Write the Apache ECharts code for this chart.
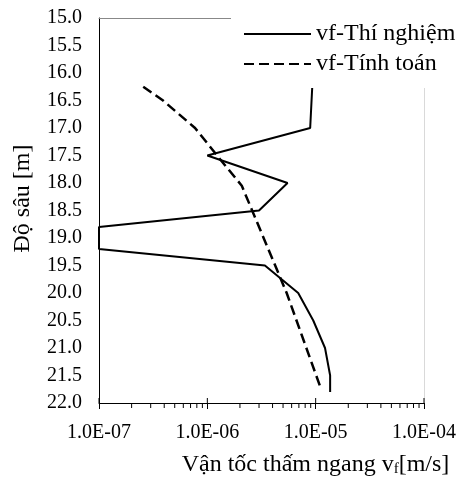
<!DOCTYPE html>
<html>
<head>
<meta charset="utf-8">
<script src="https://cdn.jsdelivr.net/npm/echarts@6/dist/echarts.min.js"></script>
<style>
  html, body { margin: 0; padding: 0; background: #fff; }
  #chart { width: 461px; height: 482px; }
</style>
</head>
<body>
<div id="chart"></div>
<script>
    // van toc tham ngang (m/s) theo do sau (m)
    var depthTN  = [16.25, 17.0, 17.5, 18.0, 18.5, 18.8, 19.2, 19.5, 20.0, 20.5, 21.0, 21.5, 21.8];
    var vfTN     = [9.3e-6, 8.9e-6, 1.0e-6, 5.5e-6, 3.0e-6, 1.0e-7, 1.0e-7, 3.4e-6, 6.9e-6, 9.5e-6, 1.22e-5, 1.36e-5, 1.36e-5];
    var depthTT  = [16.25, 16.5, 17.0, 17.5, 18.05, 20.0, 21.7];
    var vfTT     = [2.56e-7, 3.9e-7, 7.7e-7, 1.23e-6, 2.08e-6, 5.4e-6, 1.1e-5];
    var seriesNames = ['vf-Thí nghiệm', 'vf-Tính toán'];
    var majorTicks = [1e-7, 1e-6, 1e-5, 1e-4];
    var minorTicks = [];
    for (var d = 0; d < 3; d++) {
        for (var m = 2; m <= 9; m++) {
            minorTicks.push(m * majorTicks[d]);
        }
    }

    var font = "'Liberation Serif', 'Times New Roman', serif";

    function pairs(xs, ys) {
        var out = [];
        for (var i = 0; i < xs.length; i++) { out.push([xs[i], ys[i]]); }
        return out;
    }

    //tick data: kind 0 = minor (down), 1 = major (up part)
    var tickData = [];
    minorTicks.forEach(function(v){ tickData.push([v, 22, 0]); });
    majorTicks.forEach(function(v){ tickData.push([v, 22, 1]); });

    var chart = echarts.init(document.getElementById('chart'), null, {renderer: 'canvas'});
    var option = {
        backgroundColor: '#fff',
        animation: false,
        textStyle: {fontFamily: font},
        grid: {left: 99, right: 37, top: 18, bottom: 76, containLabel: false},
        legend: {
            data: seriesNames,
            orient: 'vertical',
            left: 231, top: 0,
            padding: [22, 0, 12, 12],
            backgroundColor: '#fff',
            itemWidth: 67, itemHeight: 14, itemGap: 6,
            itemStyle: {opacity: 0},
            textStyle: {fontFamily: font, fontSize: 24, color: '#000', lineHeight: 23}
        },
        xAxis: [{
            type: 'log', logBase: 10, min: 1e-7, max: 1e-4,
            name: 'Vận tốc thấm ngang v{s|f}[m/s]',
            nameLocation: 'middle', nameGap: 50,
            nameTextStyle: {
                fontFamily: font, fontSize: 24, color: '#000', padding: [0, 0, 0, 108],
                rich: {s: {fontFamily: font, fontSize: 15, color: '#000', padding: [8, 0, 0, 0]}}
            },
            axisLine: {lineStyle: {color: '#000', width: 1}},
            axisTick: {show: true, length: 6, lineStyle: {color: '#000'}},
            splitLine: {show: false},
            axisLabel: {
                fontFamily: font, fontSize: 20, color: '#000', margin: 20,
                formatter: function(v) {
                    var e = Math.round(Math.log(v) / Math.LN10);
                    var s = Math.abs(e) < 10 ? '0' + Math.abs(e) : '' + Math.abs(e);
                    return '1.0E' + (e < 0 ? '-' : '+') + s;
                }
            }
        }, {
            type: 'log', logBase: 10, min: 1e-7, max: 1e-4, position: 'top',
            axisLine: {lineStyle: {color: '#888', width: 1}},
            axisTick: {show: false}, axisLabel: {show: false}, splitLine: {show: false}
        }],
        yAxis: [{
            type: 'value', inverse: true, min: 15, max: 22, interval: 0.5,
            name: 'Độ sâu [m]', nameLocation: 'middle', nameGap: 64, nameRotate: 90,
            nameTextStyle: {fontFamily: font, fontSize: 24, color: '#000', padding: [0, 0, 0, 24]},
            axisLine: {show: true, lineStyle: {color: '#000', width: 1}},
            axisTick: {show: false},
            splitLine: {show: false},
            axisLabel: {
                fontFamily: font, fontSize: 20, color: '#000', margin: 17,
                formatter: function(v){ return v.toFixed(1); }
            }
        }, {
            type: 'value', inverse: true, min: 15, max: 22, position: 'right',
            axisLine: {show: true, lineStyle: {color: '#d9d9d9', width: 1}},
            axisTick: {show: false}, axisLabel: {show: false}, splitLine: {show: false}
        }],
        series: [{
            name: seriesNames[0], type: 'line', symbol: 'none',
            data: pairs(vfTN, depthTN),
            lineStyle: {color: '#000', width: 2}, itemStyle: {color: '#000'},
            z: 3
        }, {
            name: seriesNames[1], type: 'line', symbol: 'none',
            data: pairs(vfTT, depthTT),
            lineStyle: {color: '#000', width: 2.5, type: [10, 5]}, itemStyle: {color: '#000'},
            z: 3
        }, {
            name: 'ticks', type: 'custom', clip: false, silent: true,
            data: tickData,
            renderItem: function(params, api) {
                var p = api.coord([api.value(0), api.value(1)]);
                var up = api.value(2) === 1;
                return {
                    type: 'line',
                    shape: {x1: p[0], y1: up ? p[1] - 5 : p[1], x2: p[0], y2: up ? p[1] : p[1] + 5},
                    style: {stroke: '#000', lineWidth: 1}
                };
            }
        }]
    };
    chart.setOption(option);
</script>
</body>
</html>
